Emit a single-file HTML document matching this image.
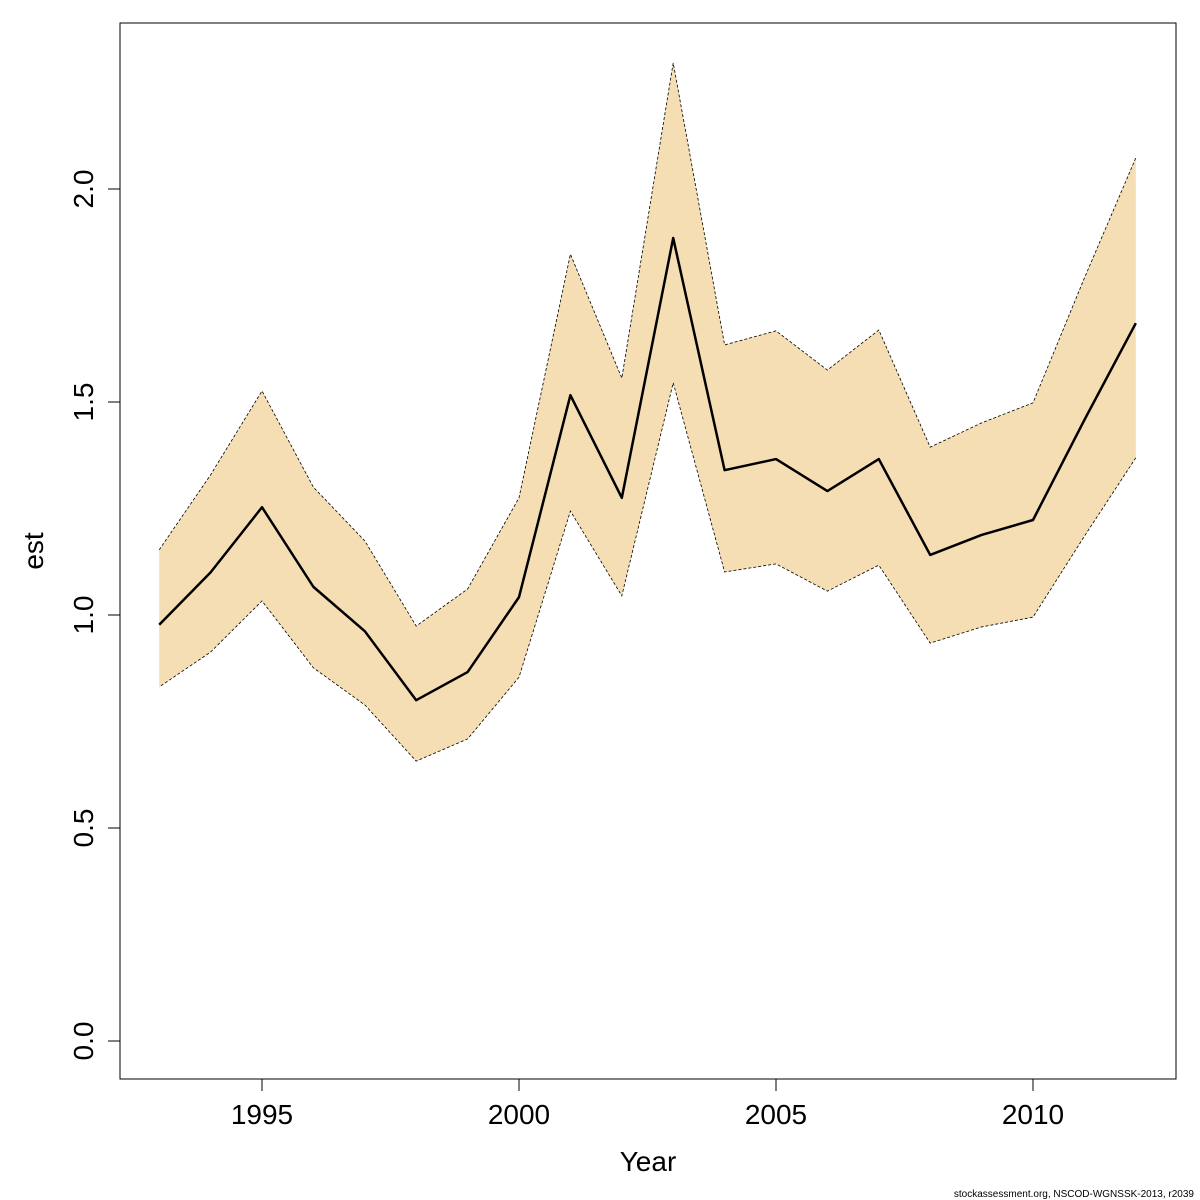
<!DOCTYPE html>
<html><head><meta charset="utf-8"><style>body{margin:0;background:#fff}svg{display:block;font-family:"Liberation Sans","DejaVu Sans",sans-serif}</style></head>
<body>
<svg id="chart" width="1200" height="1200" viewBox="0 0 1200 1200">
<rect width="1200" height="1200" fill="#fff"/>
<g id="plot"></g>
<rect x="120" y="23" width="1056" height="1056" fill="none" stroke="#000" stroke-width="1"/>
<text x="648" y="1171" font-size="28" text-anchor="middle">Year</text>
<text transform="translate(43,551) rotate(-90)" font-size="28" text-anchor="middle">est</text>
<text x="1194" y="1197" font-size="10" text-anchor="end">stockassessment.org, NSCOD-WGNSSK-2013, r2039</text>
</svg>
<script>
const years=[1993,1994,1995,1996,1997,1998,1999,2000,2001,2002,2003,2004,2005,2006,2007,2008,2009,2010,2011,2012];
const est=[0.977,1.10,1.253,1.066,0.962,0.80,0.866,1.042,1.516,1.275,1.885,1.340,1.366,1.291,1.366,1.141,1.188,1.223,1.458,1.685];
const upper=[1.153,1.329,1.526,1.300,1.174,0.974,1.061,1.275,1.847,1.556,2.296,1.634,1.667,1.575,1.669,1.394,1.451,1.498,1.791,2.073];
const lower=[0.831,0.913,1.033,0.876,0.789,0.657,0.709,0.854,1.244,1.045,1.545,1.101,1.120,1.056,1.117,0.934,0.972,0.995,1.185,1.369];
const xTicks=[1995,2000,2005,2010];
const yTicks=["0.0","0.5","1.0","1.5","2.0"];
const X=v=>262+(v-1995)*51.4;
const Y=v=>1041-v*426;
const NS="http://www.w3.org/2000/svg";
const g=document.getElementById('plot');
function mk(t,a){const e=document.createElementNS(NS,t);for(const k in a)e.setAttribute(k,a[k]);g.appendChild(e);return e;}
const up=years.map((y,i)=>X(y)+","+Y(upper[i]));
const lo=years.map((y,i)=>X(y)+","+Y(lower[i])).reverse();
const band=mk('polygon',{points:up.concat(lo).join(' '),fill:'#F5DEB3',stroke:'none'});


const ul=mk('polyline',{points:up.join(' '),fill:'none',stroke:'#000','stroke-width':0.8,'stroke-dasharray':'3,2'});


const ll=mk('polyline',{points:lo.join(' '),fill:'none',stroke:'#000','stroke-width':0.8,'stroke-dasharray':'3,2'});


const el=mk('polyline',{points:years.map((y,i)=>X(y)+","+Y(est[i])).join(' '),fill:'none',stroke:'#000','stroke-width':2.5,'stroke-linejoin':'round'});


const xa=mk('line',{x1:X(1995),x2:X(2010),y1:1079,y2:1079,stroke:'#000'});


xTicks.forEach(t=>{
 const l=mk('line',{x1:X(t),x2:X(t),y1:1079,y2:1091,stroke:'#000'});
 
 
 const tx=mk('text',{x:X(t),y:1124,'font-size':28,'text-anchor':'middle'});tx.textContent=t;
 
 
});
const ya=mk('line',{x1:120,x2:120,y1:Y(0),y2:Y(2),stroke:'#000'});


yTicks.forEach(t=>{
 const v=parseFloat(t);
 const l=mk('line',{x1:108,x2:120,y1:Y(v),y2:Y(v),stroke:'#000'});
 
 
 const tx=mk('text',{transform:`translate(93,${Y(v)}) rotate(-90)`,'font-size':28,'text-anchor':'middle'});tx.textContent=t;
 
 
});
</script>
</body></html>
